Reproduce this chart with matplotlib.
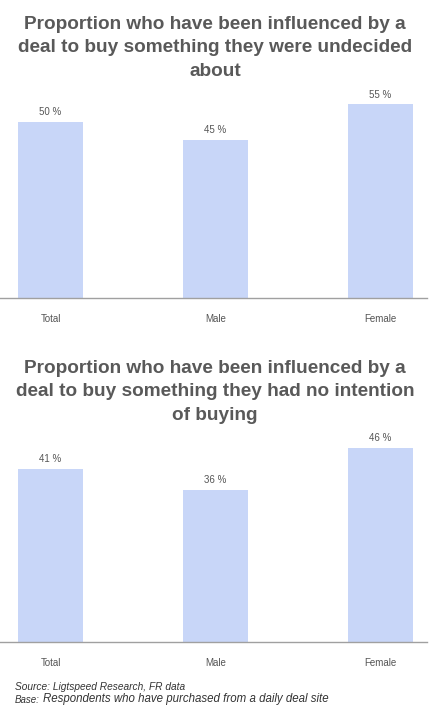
import matplotlib.pyplot as plt

plt.rcParams['font.family'] = ['Liberation Sans', 'DejaVu Sans']

# data
categories = ["Total", "Male", "Female"]
undecided = [50, 45, 55]
no_intention = [41, 36, 46]
title_top = "Proportion who have been influenced by a\ndeal to buy something they were undecided\nabout"
title_bottom = "Proportion who have been influenced by a\ndeal to buy something they had no intention\nof buying"

W, H = 430, 713
BAR_COLOR = "#c8d6f8"
TEXT_GREY = "#555555"

fig = plt.figure(figsize=(W / 100, H / 100), dpi=100)


def px_axes(left, top, right, bottom):
    return fig.add_axes([left / W, 1 - bottom / H, (right - left) / W, (bottom - top) / H])


def draw_panel(ax, values, ymax):
    x = range(len(categories))
    bars = ax.bar(x, values, width=0.394, color=BAR_COLOR)
    for b, v in zip(bars, values):
        ax.annotate(f"{v} %", (b.get_x() + b.get_width() / 2, v), xytext=(0, 3.5),
                    textcoords="offset points", ha="center", va="bottom",
                    fontsize=7, color=TEXT_GREY)
    ax.set_xlim(-0.306, 2.282)
    ax.set_ylim(0, ymax)
    ax.set_xticks(list(x))
    ax.set_xticklabels(categories, fontsize=7, color=TEXT_GREY)
    ax.tick_params(axis="x", length=0, pad=11.5)
    ax.set_yticks([])
    for s in ["top", "right", "left"]:
        ax.spines[s].set_visible(False)
    ax.spines["bottom"].set_color("#a0a0a0")
    ax.spines["bottom"].set_linewidth(1.0)


ax1 = px_axes(0, 90, 427, 298)
draw_panel(ax1, undecided, 208 / 3.52)
ax2 = px_axes(0, 434, 427, 642)
draw_panel(ax2, no_intention, 208 / 4.22)

fig.text(0.5, 1 - 48 / H, title_top, ha="center", va="center", fontsize=13.7,
         fontweight="bold", color="#595959", linespacing=1.49)
fig.text(0.5, 1 - 392 / H, title_bottom, ha="center", va="center", fontsize=13.7,
         fontweight="bold", color="#595959", linespacing=1.49)

fig.text(15 / W, 1 - 687 / H, "Source: Ligtspeed Research, FR data", ha="left", va="center",
         fontsize=7.3, style="italic", color="#333333")
fig.text(15 / W, 1 - 700 / H, "Base:", ha="left", va="center",
         fontsize=7, style="italic", color="#333333")
fig.text(43 / W, 1 - 699 / H, "Respondents who have purchased from a daily deal site", ha="left",
         va="center", fontsize=8.3, style="italic", color="#333333")

fig.savefig("out.png", dpi=100, facecolor="white")
